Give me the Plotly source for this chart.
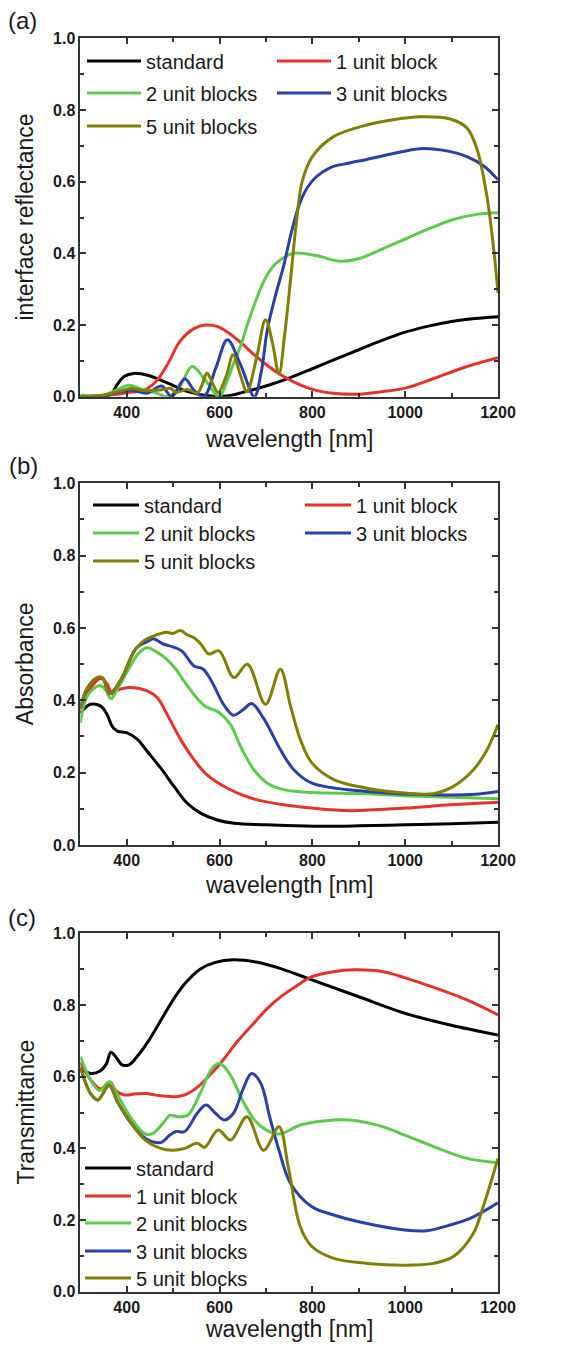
import plotly.graph_objects as go

# ---------------- data ----------------
NAMES = ["standard", "1 unit block", "2 unit blocks", "3 unit blocks", "5 unit blocks"]
COLORS = ["#000000", "#e5332a", "#5ccb4b", "#2a3fa8", "#808000"]

# (a) interface reflectance
refl_std_x = [300, 340, 365, 380, 395, 415, 445, 490, 530, 575, 615, 650, 700, 750, 800, 850, 900, 950, 1000, 1050, 1100, 1150, 1200]
refl_std_y = [0.0, 0.001, 0.006, 0.035, 0.057, 0.065, 0.06, 0.037, 0.015, 0.003, 0.002, 0.012, 0.03, 0.052, 0.078, 0.105, 0.131, 0.157, 0.18, 0.197, 0.21, 0.218, 0.223]
refl_u1_x = [300, 350, 400, 440, 465, 490, 515, 545, 570, 595, 630, 675, 700, 740, 775, 810, 850, 900, 950, 1000, 1060, 1130, 1200]
refl_u1_y = [0.0, 0.003, 0.011, 0.02, 0.045, 0.095, 0.155, 0.19, 0.2, 0.196, 0.168, 0.117, 0.09, 0.055, 0.032, 0.017, 0.009, 0.007, 0.014, 0.024, 0.05, 0.083, 0.109]
refl_u2_x = [300, 350, 380, 405, 430, 460, 490, 515, 541, 570, 599, 615, 631, 645, 665, 688, 705, 724, 760, 810, 860, 900, 950, 1000, 1050, 1100, 1150, 1200]
refl_u2_y = [0.005, 0.004, 0.02, 0.032, 0.022, 0.012, 0.0, 0.03, 0.084, 0.045, 0.0, 0.04, 0.095, 0.14, 0.22, 0.3, 0.345, 0.375, 0.4, 0.393, 0.378, 0.385, 0.412, 0.44, 0.468, 0.493, 0.508, 0.513]
refl_u3_x = [300, 350, 380, 409, 444, 475, 497, 525, 545, 566, 592, 617, 645, 675, 690, 703, 720, 738, 755, 773, 790, 809, 840, 880, 917, 970, 1032, 1080, 1133, 1170, 1200]
refl_u3_y = [0.0, 0.003, 0.012, 0.019, 0.01, 0.03, 0.0, 0.05, 0.018, 0.0, 0.08, 0.159, 0.09, 0.0, 0.07, 0.187, 0.28, 0.364, 0.46, 0.54, 0.585, 0.614, 0.64, 0.652, 0.662, 0.677, 0.692, 0.688, 0.67, 0.643, 0.605]
refl_u5_x = [300, 350, 385, 409, 437, 473, 495, 505, 530, 552, 563, 573, 584, 597, 615, 629, 645, 659, 680, 699, 714, 728, 740, 753, 765, 778, 800, 845, 917, 970, 1032, 1097, 1133, 1155, 1176, 1190, 1200]
refl_u5_y = [0.0, 0.005, 0.015, 0.023, 0.017, 0.019, 0.023, 0.012, 0.02, 0.01, 0.035, 0.066, 0.04, 0.012, 0.06, 0.117, 0.06, 0.014, 0.11, 0.215, 0.15, 0.063, 0.17, 0.327, 0.48, 0.6, 0.67, 0.725, 0.758, 0.772, 0.781, 0.775, 0.75, 0.69, 0.56, 0.42, 0.29]

# (b) absorbance
abs_std_x = [300, 322, 344, 358, 369, 380, 401, 423, 444, 473, 502, 530, 559, 595, 631, 700, 800, 900, 1000, 1100, 1200]
abs_std_y = [0.365, 0.389, 0.384, 0.36, 0.327, 0.315, 0.31, 0.292, 0.259, 0.213, 0.162, 0.116, 0.088, 0.069, 0.06, 0.056, 0.052, 0.053, 0.056, 0.059, 0.063]
abs_u1_x = [300, 320, 344, 358, 368, 380, 401, 444, 466, 487, 516, 545, 573, 617, 667, 738, 799, 882, 999, 1097, 1200]
abs_u1_y = [0.375, 0.43, 0.46, 0.445, 0.418, 0.428, 0.435, 0.426, 0.407, 0.361, 0.292, 0.236, 0.194, 0.157, 0.13, 0.111, 0.102, 0.095, 0.102, 0.111, 0.118]
abs_u2_x = [300, 316, 342, 356, 366, 382, 408, 427, 444, 467, 486, 506, 525, 552, 571, 597, 624, 645, 674, 703, 738, 799, 918, 999, 1100, 1200]
abs_u2_y = [0.338, 0.414, 0.441, 0.427, 0.404, 0.436, 0.495, 0.532, 0.545, 0.532, 0.514, 0.486, 0.45, 0.405, 0.382, 0.368, 0.332, 0.273, 0.208, 0.171, 0.153, 0.145, 0.142, 0.136, 0.132, 0.128]
abs_u3_x = [300, 316, 339, 349, 362, 375, 392, 421, 447, 457, 480, 499, 519, 545, 565, 584, 610, 630, 650, 669, 695, 731, 760, 799, 918, 1061, 1150, 1200]
abs_u3_y = [0.377, 0.436, 0.464, 0.461, 0.418, 0.432, 0.468, 0.545, 0.564, 0.57, 0.555, 0.548, 0.536, 0.495, 0.486, 0.45, 0.386, 0.359, 0.373, 0.391, 0.35, 0.264, 0.208, 0.171, 0.148, 0.139, 0.14, 0.148]
abs_u5_x = [300, 316, 339, 349, 362, 375, 392, 421, 441, 467, 486, 499, 516, 529, 545, 560, 577, 599, 631, 660, 699, 731, 753, 774, 799, 846, 918, 999, 1061, 1104, 1147, 1175, 1200]
abs_u5_y = [0.377, 0.436, 0.464, 0.461, 0.418, 0.432, 0.468, 0.545, 0.568, 0.582, 0.588, 0.585, 0.593, 0.582, 0.573, 0.555, 0.528, 0.537, 0.463, 0.5, 0.389, 0.486, 0.384, 0.292, 0.227, 0.181, 0.157, 0.144, 0.142, 0.162, 0.208, 0.26, 0.333]

# (c) transmittance
tr_std_x = [300, 323, 342, 356, 366, 377, 390, 405, 421, 447, 473, 499, 525, 558, 591, 630, 682, 735, 799, 900, 999, 1097, 1200]
tr_std_y = [0.621, 0.609, 0.615, 0.635, 0.668, 0.654, 0.633, 0.633, 0.654, 0.7, 0.756, 0.812, 0.859, 0.9, 0.919, 0.926, 0.919, 0.9, 0.87, 0.823, 0.777, 0.744, 0.716]
tr_u1_x = [300, 323, 344, 364, 377, 395, 420, 440, 473, 506, 525, 552, 578, 604, 637, 669, 702, 735, 767, 799, 846, 889, 953, 1025, 1133, 1200]
tr_u1_y = [0.64, 0.59, 0.566, 0.585, 0.56, 0.549, 0.552, 0.553, 0.547, 0.544, 0.549, 0.57, 0.603, 0.64, 0.696, 0.742, 0.789, 0.826, 0.854, 0.879, 0.893, 0.898, 0.893, 0.865, 0.814, 0.772]
tr_u2_x = [300, 323, 342, 362, 375, 408, 440, 457, 480, 493, 512, 532, 558, 584, 601, 624, 650, 676, 702, 730, 774, 846, 882, 953, 999, 1061, 1133, 1200]
tr_u2_y = [0.656, 0.589, 0.561, 0.586, 0.561, 0.487, 0.44, 0.442, 0.473, 0.492, 0.488, 0.493, 0.553, 0.623, 0.637, 0.603, 0.533, 0.478, 0.45, 0.44, 0.465, 0.479, 0.479, 0.46, 0.437, 0.405, 0.372, 0.36]
tr_u3_x = [300, 323, 338, 362, 380, 408, 440, 473, 493, 506, 525, 552, 571, 591, 610, 630, 650, 669, 689, 708, 728, 753, 799, 846, 900, 999, 1047, 1097, 1147, 1200]
tr_u3_y = [0.626, 0.551, 0.535, 0.575, 0.53, 0.472, 0.428, 0.416, 0.437, 0.447, 0.447, 0.498, 0.521, 0.498, 0.479, 0.498, 0.563, 0.609, 0.581, 0.488, 0.395, 0.302, 0.237, 0.214, 0.195, 0.172, 0.17, 0.186, 0.209, 0.248]
tr_u5_x = [300, 323, 338, 362, 380, 408, 440, 473, 499, 525, 552, 568, 597, 624, 659, 695, 728, 748, 774, 799, 846, 918, 999, 1061, 1104, 1147, 1168, 1200]
tr_u5_y = [0.627, 0.551, 0.535, 0.577, 0.53, 0.474, 0.423, 0.4, 0.395, 0.4, 0.414, 0.403, 0.451, 0.423, 0.488, 0.395, 0.46, 0.349, 0.181, 0.126, 0.093, 0.079, 0.074, 0.079, 0.098, 0.163, 0.237, 0.372]

X_TICKS = [400, 600, 800, 1000, 1200]
Y_TICKS = [0.0, 0.2, 0.4, 0.6, 0.8, 1.0]
PANEL_LABELS = ["(a)", "(b)", "(c)"]
Y_TITLES = ["interface reflectance", "Absorbance", "Transmittance"]
X_TITLE = "wavelength [nm]"

# ---------------- layout constants (pixels) ----------------
W, H = 578, 1346
PLOT_LEFT, PLOT_RIGHT = 80.3, 498.0
PANELS = [  # (top, bottom) pixel rows of each plot area
    (38.3, 396.7),
    (483.3, 845.0),
    (933.3, 1291.7),
]
FONT = "Liberation Sans, Arial, sans-serif"
TEXT = "#1a1a1a"


def px_x(p):
    return p / W


def px_y(p):
    return 1 - p / H


panel_data = [
    [(refl_std_x, refl_std_y), (refl_u1_x, refl_u1_y), (refl_u2_x, refl_u2_y),
     (refl_u3_x, refl_u3_y), (refl_u5_x, refl_u5_y)],
    [(abs_std_x, abs_std_y), (abs_u1_x, abs_u1_y), (abs_u2_x, abs_u2_y),
     (abs_u3_x, abs_u3_y), (abs_u5_x, abs_u5_y)],
    [(tr_std_x, tr_std_y), (tr_u1_x, tr_u1_y), (tr_u2_x, tr_u2_y),
     (tr_u3_x, tr_u3_y), (tr_u5_x, tr_u5_y)],
]

# legend entry placement per panel: series -> (sample line start px, row centre px), sample width
legend_slots = [
    ({0: (87, 61), 1: (277, 61), 2: (87, 93), 3: (277, 93), 4: (87, 126)}, 54),
    ({0: (93, 505), 1: (305, 505), 2: (93, 533), 3: (305, 533), 4: (93, 561)}, 46),
    ({0: (85, 1168), 1: (85, 1196), 2: (85, 1223), 3: (85, 1251), 4: (85, 1278)}, 46),
]
LEG_DX = 5   # offset of the sample line inside a legend box
LEG_DY = 0   # offset of the row centre inside a legend box

fig = go.Figure()
layout_legends = {}
legend_counter = 0

for p, series in enumerate(panel_data):
    slots, sample_w = legend_slots[p]
    ax = "" if p == 0 else str(p + 1)
    for s, (xs_, ys_) in enumerate(series):
        legend_counter += 1
        lid = "legend" if legend_counter == 1 else f"legend{legend_counter}"
        lx, ly = slots[s]
        layout_legends[lid] = dict(
            x=px_x(lx - LEG_DX), xanchor="left",
            y=px_y(ly + LEG_DY), yanchor="middle",
            itemwidth=sample_w, bgcolor="rgba(0,0,0,0)", borderwidth=0,
            font=dict(family=FONT, size=20, color=TEXT),
            itemclick=False, itemdoubleclick=False,
        )
        fig.add_trace(go.Scatter(
            x=xs_, y=ys_, mode="lines", name=NAMES[s],
            line=dict(color=COLORS[s], width=3, shape="spline", smoothing=1.0),
            xaxis="x" + ax, yaxis="y" + ax, legend=lid,
        ))

axis_common = dict(
    showline=True, linecolor="#333333", linewidth=1.5, mirror="ticks",
    ticks="inside", ticklen=6, tickwidth=1.5, tickcolor="#333333",
    showgrid=False, zeroline=False,
    tickfont=dict(family=FONT, size=16, color=TEXT, weight="bold"),
)

layout = dict(
    width=W, height=H,
    margin=dict(l=0, r=0, t=0, b=0, autoexpand=False),
    paper_bgcolor="white", plot_bgcolor="white",
    showlegend=True,
)
for p, (top, bottom) in enumerate(PANELS):
    ax = "" if p == 0 else str(p + 1)
    layout["xaxis" + ax] = dict(
        axis_common,
        domain=[px_x(PLOT_LEFT), px_x(PLOT_RIGHT)],
        range=[300, 1200], tickvals=X_TICKS,
        minor=dict(dtick=100, tick0=300, ticks="inside", ticklen=4,
                   tickwidth=1.5, tickcolor="#333333", showgrid=False),
        anchor="y" + ax, automargin=False,
    )
    layout["yaxis" + ax] = dict(
        axis_common,
        domain=[px_y(bottom), px_y(top)],
        range=[0, 1], tickvals=Y_TICKS, tickformat=".1f",
        minor=dict(dtick=0.1, tick0=0, ticks="inside", ticklen=4,
                   tickwidth=1.5, tickcolor="#333333", showgrid=False),
        anchor="x" + ax, automargin=False,
    )
layout.update(layout_legends)
fig.update_layout(**layout)

# panel letters and axis titles
label_pos = [(22, 21), (23, 465), (22, 917)]
xtitle_y = [439, 885, 1329]
for p, (top, bottom) in enumerate(PANELS):
    fig.add_annotation(text=PANEL_LABELS[p], xref="paper", yref="paper",
                       x=px_x(label_pos[p][0]), y=px_y(label_pos[p][1]),
                       xanchor="center", yanchor="middle", showarrow=False,
                       font=dict(family=FONT, size=24, color=TEXT))
    fig.add_annotation(text=Y_TITLES[p], xref="paper", yref="paper",
                       x=px_x(25), y=px_y((top + bottom) / 2), textangle=-90,
                       xanchor="center", yanchor="middle", showarrow=False,
                       font=dict(family=FONT, size=23, color=TEXT))
    fig.add_annotation(text=X_TITLE, xref="paper", yref="paper",
                       x=px_x((PLOT_LEFT + PLOT_RIGHT) / 2), y=px_y(xtitle_y[p]),
                       xanchor="center", yanchor="middle", showarrow=False,
                       font=dict(family=FONT, size=23, color=TEXT))

fig.write_html("out.html")
